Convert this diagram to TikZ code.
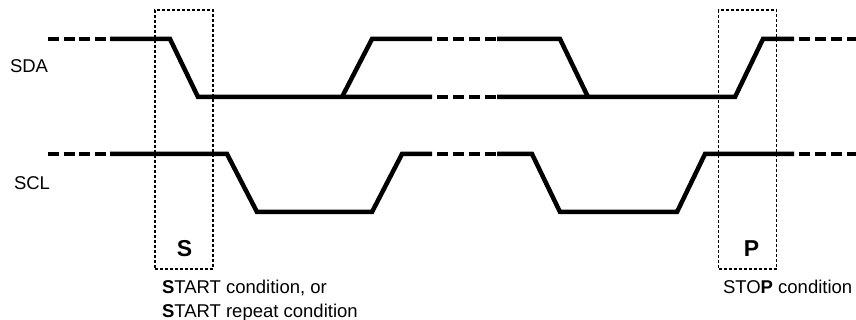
\documentclass[tikz,border=0pt]{standalone}
\usepackage{fontspec}
\setmainfont{Liberation Sans}
\usetikzlibrary{positioning}

\begin{document}
\begin{tikzpicture}[%
        x=1pt, y=-1pt,
        every node/.style={inner sep=0pt, outer sep=0pt},
        lbl/.style={font=\fontsize{18.5}{23.5}\selectfont},
        cond/.style={font=\fontsize{23}{26}\selectfont\bfseries},
        wave/.style={line width=4.5pt, line join=miter},
        gap/.style={wave, dash pattern=on 11pt off 4.5pt},
        gapin/.style={wave, dash pattern=on 11pt off 5pt, dash phase=11pt},
        condbox/.style={draw, line width=1.4pt, dash pattern=on 3pt off 2pt,
          minimum width=58pt, minimum height=259pt}
      ]
      \useasboundingbox (0,0) rectangle (856,320);
      % signal names
      \node [lbl, anchor=base west] (sda) at (10,73) {SDA};
      \node [lbl, anchor=base west] (scl) at (14,190) {SCL};
      % SDA
      \draw [gap] (48,39) -- (110,39);
      \draw [wave] (110,39) -- (170,39) -- (198,97) -- (432,97);
      \draw [gapin] (432,97) -- (497,97);
      \draw [wave] (497,97) -- (735,97) -- (763,39) -- (794,39);
      \draw [gapin] (794,39) -- (856,39);
      \draw [wave] (342,97) -- (372,39) -- (432,39);
      \draw [gapin] (432,39) -- (497,39);
      \draw [wave] (497,39) -- (560,39) -- (588,97);
      % SCL
      \draw [gap] (48,154) -- (110,154);
      \draw [wave] (110,154) -- (227,154) -- (257,212) -- (372,212)
        -- (402,154) -- (432,154);
      \draw [gapin] (432,154) -- (497,154);
      \draw [wave] (497,154) -- (532,154) -- (560,212) -- (677,212)
        -- (705,154) -- (794,154);
      \draw [gapin] (794,154) -- (856,154);
      % conditions
      \node [condbox] (sbox) at (184,139.5) {};
      \node [condbox] (pbox) at (747.5,139.5) {};
      \node [cond, anchor=base] (S) at (184.5,257) {S};
      \node [cond, anchor=base] (P) at (751.5,257) {P};
      \node [lbl, anchor=base west] (start1) at (162,293) {\textbf{S}TART condition, or};
      \node [lbl, anchor=base west] (start2) at (162,317) {\textbf{S}TART repeat condition};
      \node [lbl, anchor=base west] (stop) at (723,293) {STO\textbf{P} condition};
    \end{tikzpicture}
\end{document}
